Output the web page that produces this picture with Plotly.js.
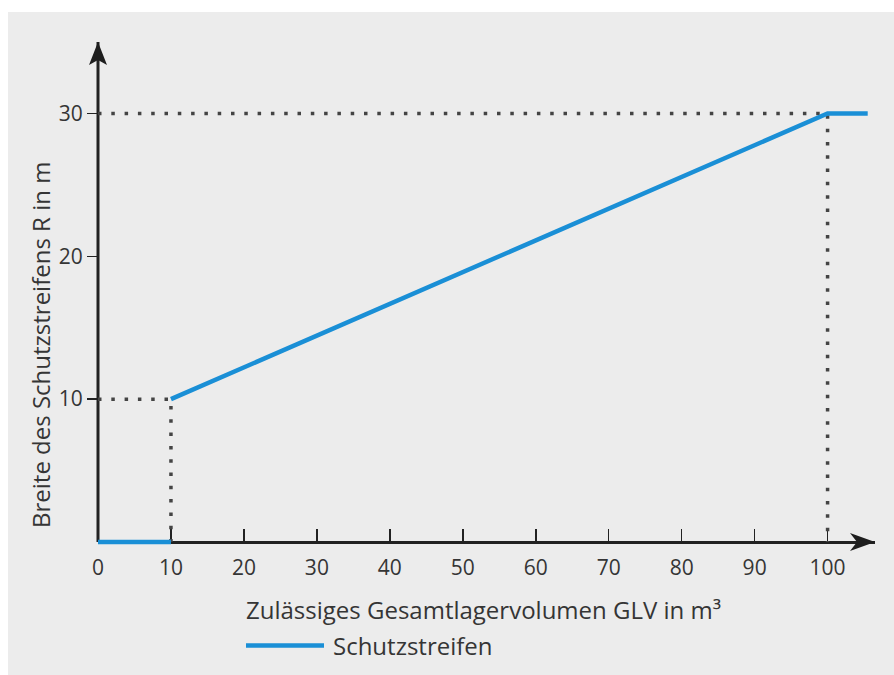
<!DOCTYPE html>
<html>
<head>
<meta charset="utf-8">
<script src="https://cdn.plot.ly/plotly-3.0.1.min.js"></script>
<style>html,body{margin:0;padding:0;background:#fff;}#chart{width:894px;height:675px;}</style>
</head>
<body>
<div id="chart"></div>
<script>
// Data
const glvX = [0, 10, null, 10, 100, 105.5];
const breiteY = [0, 0, null, 10, 30, 30];
const guideLowX = [0, 10, 10];
const guideLowY = [10, 10, 0];
const guideHighX = [0, 100, 100];
const guideHighY = [30, 30, 0];
const xTicks = [0, 10, 20, 30, 40, 50, 60, 70, 80, 90, 100];
const yTicks = [10, 20, 30];
const seriesName = 'Schutzstreifen';
const xTitle = 'Zulässiges Gesamtlagervolumen GLV in m³';
const yTitle = 'Breite des Schutzstreifens R in m';

const FONT = 'Open Sans, sans-serif';
const TXT = '#353535';
const BLUE = '#1a8fd6';
const DOT = '#444444';
const AX = '#222222';

// geometry (pixels)
const W = 894, H = 675;
const L = 98, R = 19, T = 42, B = 128;
const PW = W - L - R, PH = H - T - B;
const yMin = -0.35, yMax = 35;
const xMin = 0, xMax = 106.5;
const zeroFrac = (0 - yMin) / (yMax - yMin);
const px = (p) => (p - L) / PW;          // pixel x -> paper
const py = (p) => (H - B - p) / PH;      // pixel y -> paper

const traces = [
  {x: guideHighX, y: guideHighY, mode: 'lines', showlegend: false, hoverinfo: 'skip',
   line: {color: DOT, width: 3.5, dash: '3.5px,9.8px'}},
  {x: guideLowX, y: guideLowY, mode: 'lines', showlegend: false, hoverinfo: 'skip',
   line: {color: DOT, width: 3.5, dash: '3.5px,9.8px'}},
  {x: glvX, y: breiteY, mode: 'lines', name: '\u2009' + seriesName, connectgaps: false,
   line: {color: BLUE, width: 4.5}}
];

const layout = {
  width: W, height: H,
  margin: {l: L, r: R, t: T, b: B, autoexpand: false},
  paper_bgcolor: '#ffffff',
  plot_bgcolor: 'rgba(0,0,0,0)',
  font: {family: FONT, size: 21, color: TXT},
  showlegend: true,
  legend: {x: px(241), y: py(646), xanchor: 'left', yanchor: 'middle',
           orientation: 'h', bgcolor: 'rgba(0,0,0,0)', itemwidth: 78,
           font: {family: FONT, size: 24, color: TXT}},
  xaxis: {range: [xMin, xMax], tickvals: xTicks, ticktext: xTicks.map(String),
          anchor: 'free', position: zeroFrac, layer: 'below traces',
          showgrid: false, zeroline: false, showline: true, linewidth: 3, linecolor: AX,
          ticks: 'inside', ticklen: 12, tickwidth: 1.5, tickcolor: AX,
          ticklabelstandoff: 6, tickfont: {family: FONT, size: 21, color: TXT}, fixedrange: true},
  yaxis: {range: [yMin, yMax], tickvals: yTicks, ticktext: yTicks.map(String),
          showgrid: false, zeroline: false, showline: false, layer: 'below traces',
          ticks: 'outside', ticklen: 10, tickwidth: 1.5, tickcolor: AX,
          tickfont: {family: FONT, size: 21, color: TXT}, fixedrange: true},
  shapes: [
    {type: 'rect', xref: 'paper', yref: 'paper', layer: 'below',
     x0: px(8), x1: px(900), y0: py(680), y1: py(12),
     fillcolor: '#ececec', line: {width: 0}},
    // y axis line (decoration)
    {type: 'line', xref: 'paper', yref: 'paper', x0: 0, x1: 0, y0: zeroFrac, y1: 1, layer: 'below',
     line: {color: AX, width: 3}},
    // arrowheads
    {type: 'path', xref: 'paper', yref: 'paper', xsizemode: 'pixel', ysizemode: 'pixel',
     xanchor: 0, yanchor: 1, path: 'M 0 0 L -9 -23 L 0 -18 L 9 -23 Z',
     fillcolor: '#1e1e1e', line: {width: 0}},
    {type: 'path', xref: 'paper', yref: 'paper', xsizemode: 'pixel', ysizemode: 'pixel',
     xanchor: 1, yanchor: zeroFrac, path: 'M 0 0 L -25 9 L -18 0 L -25 -9 Z',
     fillcolor: '#1e1e1e', line: {width: 0}}
  ],
  annotations: [
    {xref: 'paper', yref: 'paper', x: px(483.5), y: py(609),
     text: xTitle, showarrow: false, xanchor: 'center', yanchor: 'middle',
     font: {family: FONT, size: 24, color: TXT}},
    {xref: 'paper', yref: 'paper', x: px(40), y: py(345),
     text: yTitle, showarrow: false, textangle: -90, xanchor: 'center', yanchor: 'middle',
     font: {family: FONT, size: 24, color: TXT}}
  ]
};

Plotly.newPlot('chart', traces, layout, {displayModeBar: false, staticPlot: true});
</script>
</body>
</html>
